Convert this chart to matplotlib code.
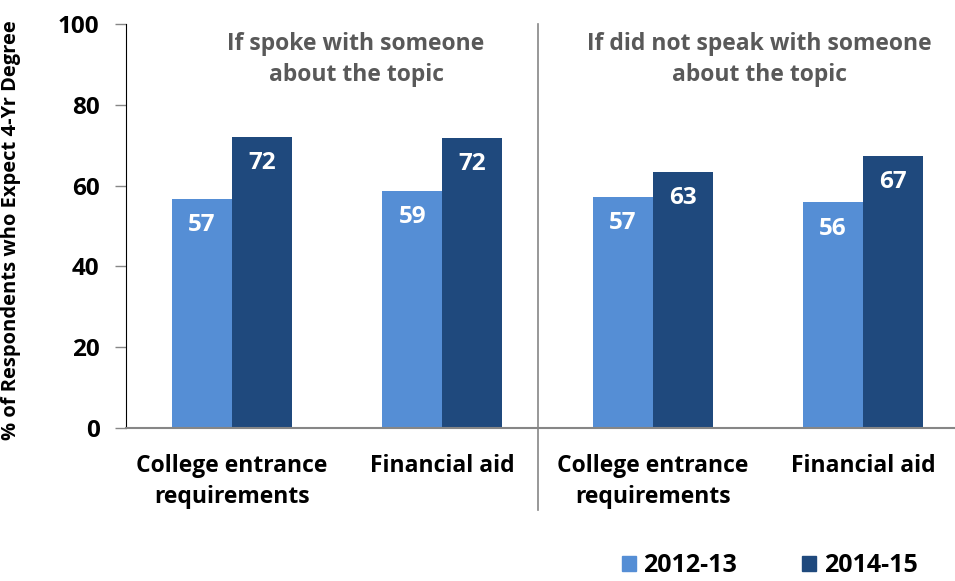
import numpy as np
import matplotlib.pyplot as plt
from matplotlib.patches import Patch

plt.rcParams['font.family'] = ['Open Sans', 'DejaVu Sans']
plt.rcParams['font.weight'] = 'bold'

categories = ["College entrance\nrequirements", "Financial aid",
              "College entrance\nrequirements", "Financial aid"]
years = ["2012-13", "2014-15"]
pct_2012 = [56.7, 58.7, 57.3, 55.9]
pct_2014 = [72.1, 71.8, 63.4, 67.4]
panel_titles = ["If spoke with someone\nabout the topic",
                "If did not speak with someone\nabout the topic"]

light = "#558ED5"
dark = "#1F497D"

fig = plt.figure(figsize=(9.55, 5.81), dpi=100)
ax = fig.add_axes([126 / 955, 1 - 428 / 581, 829 / 955, 404 / 581])

x = np.arange(len(categories))
w = 0.285
b1 = ax.bar(x - w / 2, pct_2012, w, color=light, label=years[0])
b2 = ax.bar(x + w / 2, pct_2014, w, color=dark, label=years[1])

for bars in (b1, b2):
    for rect in bars:
        v = rect.get_height()
        ax.annotate(f"{v:.0f}", (rect.get_x() + rect.get_width() / 2, v),
                    xytext=(0, -19), textcoords="offset points",
                    ha="center", va="center", color="white",
                    fontsize=17.5, fontweight="bold")

ax.set_xlim(-0.504, 3.438)
ax.set_ylim(0, 100)
ax.set_yticks(range(0, 101, 20))
ax.set_xticks(x)
ax.set_xticklabels(categories, fontsize=16.5, fontweight="bold", linespacing=1.35)
ax.tick_params(axis="x", length=0, pad=19)
ax.tick_params(axis="y", length=8, width=1, color="#868686", pad=11,
               labelsize=17.5)
for lbl in ax.get_yticklabels():
    lbl.set_fontweight("bold")

ax.spines["top"].set_visible(False)
ax.spines["right"].set_visible(False)
ax.spines["left"].set_color("black")
ax.spines["bottom"].set_color("#868686")
ax.spines["bottom"].set_linewidth(1.5)

ax.set_ylabel("% of Respondents who Expect 4-Yr Degree", fontsize=14.5,
              fontweight="bold")
ax.yaxis.set_label_coords(-0.127, 0.49)

# divider between the two panels
ax.axvline(1.455, ymin=-0.203, ymax=1, color="#868686", lw=1.2, clip_on=False)

for xc, title in zip([0.59, 2.506], panel_titles):
    ax.text(xc, 91.2, title, ha="center", va="center", color="#595959",
            fontsize=16.5, fontweight="bold", linespacing=1.4)

handles = [Patch(color=light), Patch(color=dark)]
fig.legend(handles, years, loc="center left", bbox_to_anchor=(0.628, 0.026),
           ncol=2, frameon=False, handlelength=0.55,
           handleheight=0.55, handletextpad=0.3, columnspacing=2.6,
           prop={"weight": "bold", "size": 18})

fig.savefig("out.png", dpi=100)
